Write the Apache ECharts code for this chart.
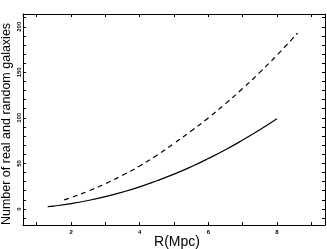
<!DOCTYPE html>
<html>
<head>
<meta charset="utf-8">
<script src="https://cdn.jsdelivr.net/npm/echarts@6/dist/echarts.min.js"></script>
<style>html,body{margin:0;padding:0;background:#fff}#c{width:327px;height:249px}</style>
</head>
<body>
<div id="c"></div>
<script>
// Data
var solidX = [1.32, 1.5, 2, 2.5, 3, 3.5, 4, 4.5, 5, 5.5, 6, 6.5, 7, 7.5, 8];
var solidY = [2.5, 3.2, 5.9, 9.3, 13.5, 18.5, 24.3, 31, 38.2, 46.3, 55.3, 65, 75.6, 86.9, 99];
var dashX = [1.8, 2, 2.5, 3, 3.5, 4, 4.5, 5, 5.5, 6, 6.5, 7, 7.5, 8, 8.6];
var dashY = [10, 12.5, 19.6, 27.7, 37, 47.2, 59, 71.9, 85.5, 99.9, 115.6, 132.2, 149.9, 168.8, 193];
var xTicks = [1, 2, 3, 4, 5, 6, 7, 8, 9];
var xLabels = [2, 4, 6, 8];
var yTicks = [-10, 0, 10, 20, 30, 40, 50, 60, 70, 80, 90, 100, 110, 120, 130, 140, 150, 160, 170, 180, 190, 200, 210];
var yLabels = [0, 50, 100, 150, 200];
var xTitle = 'R(Mpc)';
var yTitle = 'Number of real and random galaxies';

function pairs(xs, ys) { return xs.map(function (x, i) { return [x, ys[i]]; }); }

var chart = echarts.init(document.getElementById('c'), null, { renderer: 'canvas' });
var fontFam = '"Liberation Sans", Arial, sans-serif';
function xAx(pos, showLabel) {
  var lab = showLabel
    ? { show: true, customValues: xLabels, fontSize: 6, fontWeight: 'bold', color: '#000', margin: 4, fontFamily: fontFam }
    : { show: false };
  return {
    type: 'value', position: pos, min: 0.6, max: 9.4,
    axisLine: { show: true, onZero: false, lineStyle: { color: '#000', width: 1 } },
    axisTick: { show: true, inside: true, length: 3, customValues: xTicks, lineStyle: { color: '#000' } },
    axisLabel: lab,
    splitLine: { show: false }
  };
}
function yAx(pos) {
  return {
    type: 'value', position: pos, min: -17.6, max: 214,
    axisLine: { show: true, onZero: false, lineStyle: { color: '#000', width: 1 } },
    axisTick: { show: true, inside: true, length: 3, customValues: yTicks, lineStyle: { color: '#000' } },
    axisLabel: { show: false },
    splitLine: { show: false }
  };
}
chart.setOption({
  animation: false,
  backgroundColor: '#fff',
  grid: { left: 23, right: 2, top: 14, bottom: 24, containLabel: false },
  xAxis: [xAx('bottom', true), xAx('top', false)],
  yAxis: [yAx('left'), yAx('right')],
  series: [
    { type: 'line', xAxisIndex: 0, yAxisIndex: 0, data: pairs(solidX, solidY), smooth: true, showSymbol: false,
      lineStyle: { color: '#000', width: 1.2, type: 'solid' } },
    { type: 'line', xAxisIndex: 0, yAxisIndex: 0, data: pairs(dashX, dashY), smooth: true, showSymbol: false,
      lineStyle: { color: '#000', width: 1.2, type: [5, 4] } }
  ]
});

// Rotated y tick labels, vertical position through the y axis scale
var gfx = yLabels.map(function (v) {
  return {
    type: 'text', x: 22, y: chart.convertToPixel({ yAxisIndex: 0 }, v), rotation: Math.PI / 2,
    style: { text: String(v), fontSize: 6, fontWeight: 'bold', fill: '#000', fontFamily: fontFam,
             align: 'center', verticalAlign: 'bottom' }
  };
});
gfx.push({ type: 'text', x: 177, y: 235,
  style: { text: xTitle, fontSize: 14, fill: '#000', fontFamily: fontFam, align: 'center', verticalAlign: 'top' } });
gfx.push({ type: 'text', x: 13, y: 124, rotation: Math.PI / 2,
  style: { text: yTitle, fontSize: 12.5, fill: '#000', fontFamily: fontFam, align: 'center', verticalAlign: 'bottom' } });
chart.setOption({ graphic: gfx });
</script>
</body>
</html>
